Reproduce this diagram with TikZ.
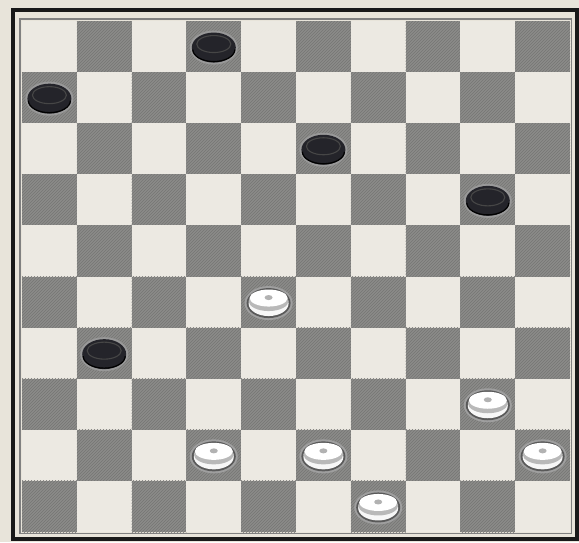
\documentclass[tikz,border=0pt]{standalone}
\usetikzlibrary{patterns}
\definecolor{bg}{HTML}{E8E4DA}
\definecolor{lightsq}{HTML}{ECE9E2}
\definecolor{darksq}{HTML}{8B8B89}
\definecolor{hatch}{HTML}{767674}
\definecolor{blackman}{HTML}{24242A}
\newcommand\bpiece[2]{%
  \pgfmathsetmacro\px{22+(#1+0.5)*54.8}%
  \pgfmathsetmacro\py{21+(#2+0.5)*51.1}%
  \fill[gray!80] (\px,\py+1) ellipse [x radius=24pt, y radius=17pt];
  \fill[blackman] (\px,\py+1) ellipse [x radius=22pt, y radius=15pt];
  \draw[gray!55!black, line width=1.1pt] (\px,\py-2.5) ellipse [x radius=17pt, y radius=8.5pt];
  \draw[black, line width=1.2pt] (\px-21,\py+3) arc[start angle=180, end angle=360, x radius=21pt, y radius=12pt];
}
\newcommand\wpiece[2]{%
  \pgfmathsetmacro\px{22+(#1+0.5)*54.8}%
  \pgfmathsetmacro\py{21+(#2+0.5)*51.1}%
  \fill[gray!75] (\px,\py+1) ellipse [x radius=24pt, y radius=17pt];
  \fill[black!65] (\px,\py+1) ellipse [x radius=22pt, y radius=15pt];
  \fill[white!94!gray] (\px,\py+1.5) ellipse [x radius=20pt, y radius=12.5pt];
  \fill[gray!55] (\px,\py-1) ellipse [x radius=20pt, y radius=10pt];
  \fill[white] (\px,\py-4) ellipse [x radius=19pt, y radius=8.5pt];
  \fill[gray!60] (\px,\py-4.5) ellipse [x radius=4pt, y radius=2.5pt];
}
\begin{document}
\begin{tikzpicture}[x=1pt,y=-1pt]
\useasboundingbox (0,0) rectangle (579,542);
\fill[bg] (0,0) rectangle (579,542);
\draw[line width=4pt, black!90] (12.5,10) rectangle (577,539);
\draw[line width=1.6pt, gray] (19.8,18.8) rectangle (571.6,533.6);
\foreach \r in {0,...,9} {
  \foreach \c in {0,...,9} {
    \pgfmathsetmacro\xa{22+\c*54.8}
    \pgfmathsetmacro\ya{21+\r*51.1}
    \pgfmathsetmacro\xb{22+(\c+1)*54.8}
    \pgfmathsetmacro\yb{21+(\r+1)*51.1}
    \pgfmathtruncatemacro\sqpar{mod(\r+\c,2)}
    \ifnum\sqpar=1
      \fill[darksq] (\xa,\ya) rectangle (\xb,\yb);
      \fill[pattern=north east lines, pattern color=hatch] (\xa,\ya) rectangle (\xb,\yb);
    \else
      \fill[lightsq] (\xa,\ya) rectangle (\xb,\yb);
    \fi
  }
}
\bpiece{3}{0}
\bpiece{0}{1}
\bpiece{5}{2}
\bpiece{8}{3}
\bpiece{1}{6}
\wpiece{4}{5}
\wpiece{8}{7}
\wpiece{3}{8}
\wpiece{5}{8}
\wpiece{9}{8}
\wpiece{6}{9}
\end{tikzpicture}
\end{document}
